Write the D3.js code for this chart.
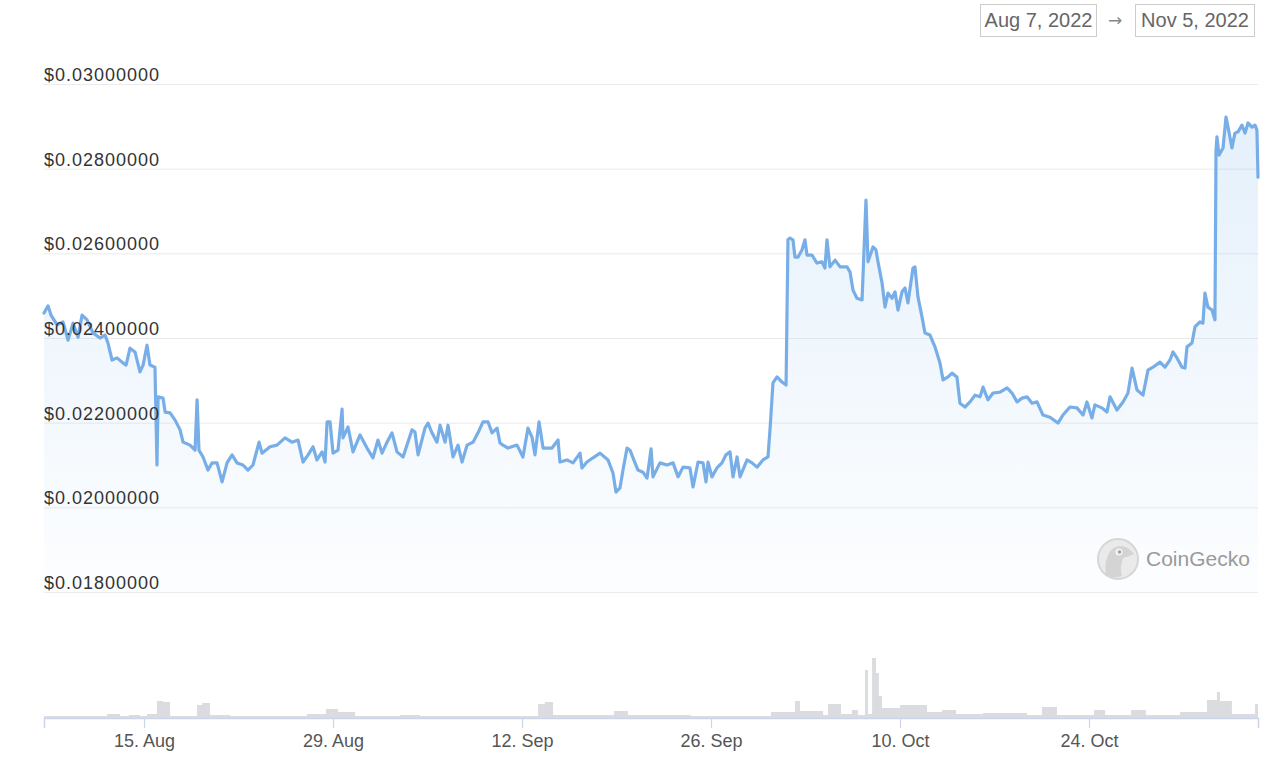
<!DOCTYPE html>
<html>
<head>
<meta charset="utf-8">
<script src="https://cdn.jsdelivr.net/npm/d3@7"></script>
<style>
  html, body { margin: 0; padding: 0; background: #fff; }
  svg { display: block; }
</style>
</head>
<body>
<svg id="chart" width="1280" height="763"></svg>
<script>
// ---------- DATA ----------
// Price series: [days since 2022-08-07 00:00 UTC, price in USD]
const pricePoints = [
  [0.59,0.02459],[0.89,0.02476],[1.11,0.02454],[1.56,0.02431],[2.00,0.02438],[2.37,0.02395],[2.74,0.02435],
  [3.11,0.02402],[3.41,0.02454],[3.78,0.02443],[4.22,0.02412],[4.74,0.02400],[5.11,0.02407],[5.33,0.02388],
  [5.63,0.02348],[6.00,0.02353],[6.37,0.02343],[6.67,0.02336],[6.96,0.02376],[7.33,0.02367],[7.70,0.02320],
  [7.93,0.02336],[8.22,0.02383],[8.44,0.02336],[8.81,0.02331],[8.96,0.02100],[9.04,0.02261],[9.41,0.02258],
  [9.56,0.02225],[9.93,0.02223],[10.30,0.02206],[10.67,0.02183],[10.89,0.02154],[11.41,0.02147],[11.78,0.02135],
  [11.93,0.02254],[12.07,0.02135],[12.37,0.02119],[12.74,0.02088],[13.04,0.02105],[13.41,0.02105],[13.78,0.02060],
  [14.15,0.02105],[14.52,0.02124],[14.89,0.02105],[15.33,0.02100],[15.70,0.02088],[16.07,0.02100],[16.52,0.02154],
  [16.74,0.02128],[17.33,0.02143],[17.85,0.02147],[18.44,0.02164],[18.96,0.02154],[19.41,0.02159],[19.78,0.02107],
  [20.15,0.02124],[20.52,0.02143],[20.81,0.02112],[21.19,0.02131],[21.41,0.02107],[21.56,0.02202],[21.78,0.02202],
  [22.00,0.02128],[22.37,0.02135],[22.67,0.02232],[22.74,0.02164],[23.11,0.02190],[23.48,0.02131],[24.00,0.02171],
  [24.52,0.02140],[24.96,0.02117],[25.33,0.02159],[25.63,0.02128],[26.00,0.02154],[26.37,0.02176],[26.74,0.02131],
  [27.19,0.02119],[27.85,0.02183],[28.07,0.02178],[28.30,0.02124],[28.81,0.02187],[29.04,0.02199],[29.33,0.02176],
  [29.70,0.02154],[29.93,0.02194],[30.30,0.02154],[30.52,0.02194],[30.89,0.02119],[31.26,0.02147],[31.56,0.02107],
  [31.93,0.02147],[32.37,0.02154],[32.74,0.02176],[33.11,0.02202],[33.48,0.02202],[33.78,0.02176],[34.15,0.02187],
  [34.37,0.02152],[34.59,0.02147],[34.96,0.02140],[35.63,0.02147],[36.07,0.02119],[36.44,0.02187],[36.74,0.02166],
  [36.96,0.02124],[37.26,0.02202],[37.56,0.02140],[38.22,0.02140],[38.67,0.02159],[38.81,0.02107],[39.33,0.02112],
  [39.78,0.02105],[40.30,0.02128],[40.44,0.02093],[40.81,0.02107],[41.26,0.02117],[41.78,0.02128],[42.37,0.02112],
  [42.74,0.02081],[42.96,0.02036],[43.26,0.02046],[43.48,0.02088],[43.78,0.02140],[44.00,0.02135],[44.37,0.02105],
  [44.59,0.02088],[44.96,0.02083],[45.26,0.02069],[45.56,0.02138],[45.70,0.02072],[46.22,0.02105],[46.74,0.02100],
  [47.19,0.02105],[47.56,0.02072],[47.93,0.02095],[48.44,0.02093],[48.67,0.02048],[49.04,0.02107],[49.41,0.02105],
  [49.63,0.02060],[49.78,0.02107],[50.07,0.02072],[50.44,0.02093],[50.81,0.02105],[51.11,0.02124],[51.41,0.02131],
  [51.63,0.02072],[51.93,0.02119],[52.15,0.02072],[52.67,0.02112],[53.04,0.02105],[53.41,0.02095],[53.85,0.02112],
  [54.22,0.02119],[54.37,0.02183],[54.59,0.02294],[54.89,0.02308],[55.26,0.02296],[55.56,0.02289],[55.70,0.02632],
  [55.85,0.02636],[56.07,0.02632],[56.22,0.02591],[56.44,0.02591],[56.74,0.02608],[56.96,0.02632],[57.11,0.02596],
  [57.48,0.02596],[57.85,0.02577],[58.22,0.02580],[58.44,0.02565],[58.59,0.02632],[58.81,0.02568],[59.19,0.02584],
  [59.56,0.02568],[60.07,0.02568],[60.30,0.02556],[60.52,0.02513],[60.81,0.02494],[61.19,0.02490],[61.48,0.02726],
  [61.63,0.02580],[62.00,0.02615],[62.22,0.02608],[62.37,0.02580],[62.67,0.02530],[62.89,0.02473],[63.11,0.02506],
  [63.41,0.02494],[63.63,0.02509],[63.85,0.02466],[64.15,0.02509],[64.37,0.02518],[64.59,0.02483],[64.96,0.02565],
  [65.11,0.02568],[65.33,0.02497],[65.63,0.02450],[65.85,0.02412],[66.22,0.02407],[66.59,0.02379],[66.96,0.02341],
  [67.19,0.02301],[67.56,0.02308],[67.85,0.02317],[68.22,0.02308],[68.44,0.02246],[68.81,0.02237],[69.19,0.02249],
  [69.56,0.02265],[69.93,0.02261],[70.15,0.02284],[70.52,0.02254],[70.89,0.02270],[71.41,0.02272],[71.93,0.02282],
  [72.30,0.02270],[72.67,0.02249],[73.04,0.02258],[73.41,0.02261],[73.78,0.02246],[74.15,0.02249],[74.59,0.02218],
  [75.11,0.02213],[75.70,0.02199],[76.07,0.02218],[76.59,0.02237],[77.11,0.02235],[77.56,0.02218],[77.85,0.02249],
  [78.22,0.02211],[78.44,0.02242],[78.96,0.02235],[79.33,0.02225],[79.56,0.02261],[80.07,0.02230],[80.52,0.02249],
  [80.89,0.02270],[81.19,0.02329],[81.56,0.02277],[82.00,0.02265],[82.37,0.02324],[82.74,0.02331],[83.26,0.02343],
  [83.63,0.02331],[84.00,0.02348],[84.22,0.02367],[84.52,0.02353],[84.89,0.02331],[85.11,0.02329],[85.26,0.02379],
  [85.63,0.02388],[85.85,0.02426],[86.22,0.02438],[86.44,0.02435],[86.59,0.02506],[86.81,0.02473],[87.11,0.02466],
  [87.33,0.02443],[87.41,0.02844],[87.48,0.02875],[87.63,0.02832],[87.93,0.02849],[88.15,0.02922],[88.30,0.02898],
  [88.59,0.02849],[88.81,0.02884],[89.04,0.02887],[89.33,0.02903],[89.56,0.02884],[89.78,0.02908],[90.07,0.02898],
  [90.30,0.02903],[90.44,0.02891],[90.52,0.02780]
];

// Volume (relative units), step series: [days since 2022-08-07, volume]
const volumePoints = [
  [0.59,2],[5.26,4],[6.22,2],[6.89,3],[7.70,2],[8.22,4],[8.96,17],[9.41,16],[9.93,2],[11.93,13],[12.30,15],
  [12.89,3],[14.37,2],[20.07,4],[21.48,9],[22.37,6],[23.63,2],[26.96,3],[28.44,2],[37.19,14],[37.70,16],
  [38.30,3],[42.81,7],[43.85,3],[48.5,2],[54.44,6],[56.22,17],[56.59,7],[58.30,3],[58.67,14],[59.63,4],
  [60.44,8],[60.89,3],[61.41,48],[61.63,4],[61.93,60],[62.22,45],[62.44,22],[62.67,10],[64.00,13],[66.00,6],
  [67.11,8],[68.15,4],[70.15,5],[73.41,3],[74.52,11],[75.63,3],[78.37,8],[79.19,3],[81.11,8],[82.22,3],
  [84.74,6],[86.74,18],[87.48,26],[87.70,17],[88.59,4],[90.30,14],[90.52,14]
];

const yTickValues = [0.018, 0.020, 0.022, 0.024, 0.026, 0.028, 0.030];
const xTickLabels = ["2022-08-15", "2022-08-29", "2022-09-12", "2022-09-26", "2022-10-10", "2022-10-24"];
const rangeStartLabel = "Aug 7, 2022";
const rangeEndLabel = "Nov 5, 2022";
const brandLabel = "CoinGecko";

// ---------- HELPERS ----------
const DAY = 86400000;
const base = Date.UTC(2022, 7, 7);
const toDate = d => new Date(base + d * DAY);

const svg = d3.select("#chart");
const font = "'Liberation Sans', Arial, Helvetica, sans-serif";

const x = d3.scaleUtc()
  .domain([toDate(pricePoints[0][0]), toDate(pricePoints[pricePoints.length - 1][0])])
  .range([44, 1258]);
const y = d3.scaleLinear().domain([0.018, 0.030]).range([592, 84]);
const yVol = d3.scaleLinear().domain([0, 100]).range([718, 618]);

// ---------- DEFS ----------
const defs = svg.append("defs");
const grad = defs.append("linearGradient").attr("id", "areaGrad")
  .attr("x1", 0).attr("y1", 0).attr("x2", 0).attr("y2", 1);
grad.append("stop").attr("offset", "0%").attr("stop-color", "#7cb5ec").attr("stop-opacity", 0.2);
grad.append("stop").attr("offset", "100%").attr("stop-color", "#7cb5ec").attr("stop-opacity", 0.02);

// ---------- GRIDLINES ----------
const yAxis = d3.axisLeft(y).tickValues(yTickValues).tickSize(-(1258 - 44)).tickFormat("");
const gy = svg.append("g").attr("transform", "translate(44,0)").call(yAxis);
gy.select(".domain").remove();
gy.selectAll(".tick line").attr("stroke", "#ebebeb").attr("stroke-width", 1);

// ---------- VOLUME ----------
const volArea = d3.area()
  .x(d => x(toDate(d[0])))
  .y0(yVol(0))
  .y1(d => yVol(d[1]))
  .curve(d3.curveStepAfter);
svg.append("path").datum(volumePoints)
  .attr("d", volArea)
  .attr("fill", "#d3d6da")
  .attr("opacity", 0.85);

// ---------- X AXIS ----------
const xTicks = xTickLabels.map(s => new Date(s + "T00:00:00Z"));
const xAxis = d3.axisBottom(x).tickValues(xTicks).tickSize(10).tickPadding(6)
  .tickFormat(d3.utcFormat("%-d. %b"));
const gx = svg.append("g").attr("transform", `translate(0,${yVol(0)})`).call(xAxis);
gx.select(".domain").attr("stroke", "#ccd6eb").attr("stroke-width", 1.5);
gx.selectAll(".tick line").attr("stroke", "#ccd6eb").attr("stroke-width", 1.2);
gx.selectAll(".tick text")
  .attr("font-family", font).attr("font-size", 18).attr("fill", "#555");

// ---------- PRICE AREA + LINE ----------
const area = d3.area()
  .x(d => x(toDate(d[0])))
  .y0(y(0.018))
  .y1(d => y(d[1]));
svg.append("path").datum(pricePoints).attr("d", area).attr("fill", "url(#areaGrad)");

const line = d3.line()
  .x(d => x(toDate(d[0])))
  .y(d => y(d[1]));
svg.append("path").datum(pricePoints)
  .attr("d", line)
  .attr("fill", "none")
  .attr("stroke", "#78aee8")
  .attr("stroke-width", 3.2)
  .attr("stroke-linejoin", "round")
  .attr("stroke-linecap", "round");

// ---------- Y LABELS (drawn over the line) ----------
svg.append("g").selectAll("text").data(yTickValues).join("text")
  .attr("x", 44)
  .attr("y", d => y(d) - 3)
  .attr("font-family", font)
  .attr("font-size", 18)
  .attr("letter-spacing", "1px")
  .attr("fill", "#333")
  .text(d => "$" + d.toFixed(8));

// ---------- DATE RANGE BOXES ----------
function rangeBox(x0, w, label) {
  svg.append("rect").attr("x", x0 + 0.5).attr("y", 4.5).attr("width", w).attr("height", 32)
    .attr("fill", "#fff").attr("stroke", "#cccccc").attr("stroke-width", 1);
  svg.append("text").attr("x", x0 + w / 2 + 0.5).attr("y", 27)
    .attr("text-anchor", "middle").attr("font-family", font).attr("font-size", 20)
    .attr("fill", "#666").text(label);
}
rangeBox(980, 116, rangeStartLabel);
svg.append("text").attr("x", 1115).attr("y", 26).attr("text-anchor", "middle")
  .attr("font-family", "'DejaVu Sans', sans-serif").attr("font-size", 17).attr("fill", "#888").text("→");
rangeBox(1135, 119, rangeEndLabel);

// ---------- COINGECKO WATERMARK ----------
const logo = svg.append("g").attr("transform", "translate(1118,559)").attr("opacity", 0.9);
logo.append("circle").attr("r", 20).attr("fill", "#e9e9e9").attr("stroke", "#d2d2d2").attr("stroke-width", 2);
logo.append("path")
  .attr("d", "M-12,16 C-14,2 -10,-12 2,-13 C9,-13 13,-9 16,-5 C12,-3 8,-2 5,-1 C3,5 2,11 4,17 C-2,19 -8,19 -12,16 Z")
  .attr("fill", "#d0d0d0");
logo.append("circle").attr("cx", 1).attr("cy", -7).attr("r", 3.5).attr("fill", "#f5f5f5");
logo.append("circle").attr("cx", 1.5).attr("cy", -7).attr("r", 1.8).attr("fill", "#9a9a9a");
svg.append("text").attr("x", 1146).attr("y", 566)
  .attr("font-family", font).attr("font-size", 21).attr("fill", "#9a9a9a").text(brandLabel);
</script>
</body>
</html>
